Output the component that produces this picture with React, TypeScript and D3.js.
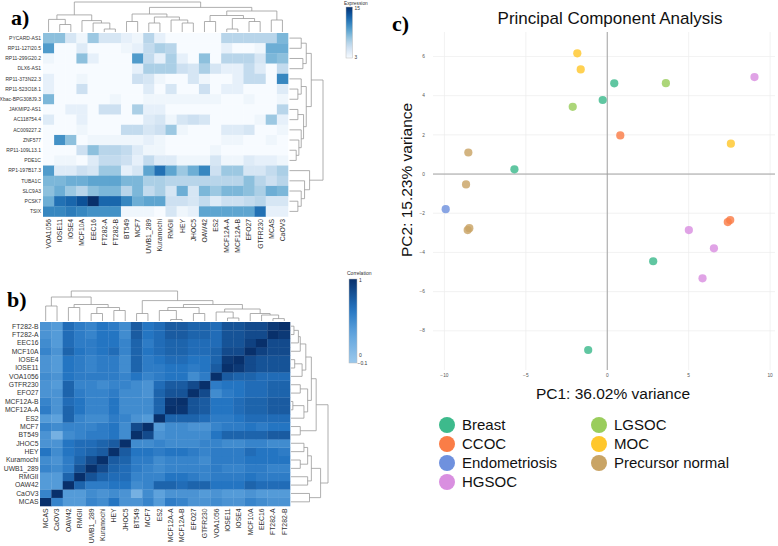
import React from "react";
import * as d3 from "d3";

// ---------------- Panel a data ----------------
const exprGenes = [
  "PYCARD-AS1", "RP11-127I20.5", "RP11-299G20.2", "DLX6-AS1", "RP11-373N22.3",
  "RP11-523O18.1", "Xbac-BPG308J9.3", "JAKMIP2-AS1", "AC118754.4", "AC009227.2",
  "ZNF577", "RP11-109L13.1", "PDE1C", "RP1-197B17.3", "TUBA1C", "SLC9A3", "PCSK7", "TSIX",
];
const exprSamples = [
  "VOA1056", "IOSE11", "IOSE4", "MCF10A", "EEC16", "FT282-A", "FT282-B", "BT549", "MCF7",
  "UWB1_289", "Kuramochi", "RMGII", "HEY", "JHOC5", "OAW42", "ES2", "MCF12A-A", "MCF12A-B",
  "EFO27", "GTFR230", "MCAS", "CaOV3",
];
const exprValues = [
  [8, 8, 5, 3.5, 7.5, 5, 5, 4, 3.5, 6.5, 4, 3, 3, 3, 3, 3, 6.5, 6.5, 6.5, 6.5, 6.5, 8.5],
  [10, 3, 3, 4.5, 3, 3, 3, 3.5, 4, 6, 7, 6.5, 3, 3, 3, 3, 4, 3, 3, 3.5, 9, 9],
  [3.5, 3, 3, 8, 4, 3, 3, 3, 10, 6, 4, 7, 4, 3, 8, 3, 6.5, 6.5, 6.5, 5, 8.5, 8],
  [3, 3, 3, 3, 3, 3, 3, 3, 4, 7, 7, 7, 5.5, 5, 7, 5, 4, 4, 6, 4.5, 3, 6],
  [4, 3, 3, 3.5, 3, 3, 3, 3, 5.5, 5, 3.5, 3, 3, 5, 3.5, 3, 3, 4, 6, 6, 3, 11],
  [4, 3, 3, 5.5, 3, 3, 3, 3, 3, 4.5, 3, 5, 3, 3, 5.5, 3, 4, 4, 3, 3, 3, 4.5],
  [8.5, 3, 3, 3, 3, 3, 3.5, 3, 3, 3.5, 3.5, 3.5, 3.5, 3.5, 3.5, 3.5, 3, 3, 3.5, 3, 3, 3.5],
  [3, 3, 4, 4, 3, 5.5, 5.5, 3, 7, 4, 4, 3, 3, 3, 3, 3, 3, 3, 3, 3, 3, 6.5],
  [4.5, 3, 3, 4, 3, 3, 3, 3, 3, 4.5, 5, 3.5, 5, 5.5, 5, 3, 3, 3, 3, 3.5, 7.5, 4],
  [3, 3, 3, 3.5, 3, 3, 3, 6, 6, 5, 5.5, 7.5, 3.5, 3, 3, 3, 4.5, 4.5, 5, 3, 3, 3.5],
  [3, 10.5, 8, 3, 3.5, 3.5, 3.5, 3.5, 3.5, 4, 3.5, 3, 3, 3, 3, 3, 3.5, 3.5, 3, 3, 3.5, 3],
  [3, 3, 3, 5.5, 8, 6.5, 6.5, 6, 4.5, 3.5, 3.5, 3, 3, 3, 3, 3.5, 3, 3, 3, 3, 3, 3],
  [3, 3.5, 3.5, 3, 4.5, 6, 6, 5.5, 4, 6, 4.5, 4.5, 3.5, 3.5, 3.5, 5, 3.5, 3.5, 4.5, 4, 4, 3.5],
  [10, 4.5, 4.5, 5.5, 5, 7.5, 7.5, 4, 5, 9.5, 12, 9.5, 7.5, 9, 11, 5.5, 7.5, 7.5, 5, 5, 6, 7],
  [8.5, 8.5, 9, 9, 9.5, 9.5, 9.5, 8.5, 8.5, 7, 7, 6.5, 6.5, 6.5, 6.5, 6.5, 6.5, 6.5, 8, 6.5, 5.5, 6.5],
  [8, 9, 7.5, 6.5, 8, 8.5, 8.5, 6.5, 8.5, 6, 7, 5, 9, 5, 8.5, 7.5, 8.5, 8.5, 8, 7, 9, 8.5],
  [9, 12, 12.5, 13.5, 15, 12.5, 12.5, 11, 9, 9.5, 9.5, 5.5, 5.5, 5, 6, 4.5, 5.5, 5.5, 6, 6.5, 5, 5],
  [11, 11, 11.5, 11, 10.5, 10.5, 10.5, 3.5, 3.5, 3.5, 3, 5, 3.5, 4, 9.5, 9.5, 9.5, 9.5, 9.5, 12, 4, 4],
];
const exprDomain = [3, 15];

type Tree = string | [Tree, Tree, number];

const exprColTree: Tree = [
  [["VOA1056", ["IOSE11", "IOSE4", 0.25], 0.42], ["MCF10A", ["EEC16", ["FT282-A", "FT282-B", 0.1], 0.3], 0.38], 0.57],
  [
    [["BT549", "MCF7", 0.35], [["UWB1_289", "Kuramochi", 0.3], ["RMGII", ["HEY", "JHOC5", 0.3], 0.4], 0.5], 0.6],
    [[["OAW42", "ES2", 0.35], [["MCF12A-A", "MCF12A-B", 0.1], ["EFO27", "GTFR230", 0.35], 0.45], 0.55], ["MCAS", "CaOV3", 0.4], 0.7],
    0.82,
  ],
  1.0,
];
const exprRowTree: Tree = [
  [
    [["PYCARD-AS1", "RP11-127I20.5", 0.35], ["RP11-299G20.2", "DLX6-AS1", 0.4], 0.5],
    [
      ["RP11-373N22.3", ["RP11-523O18.1", "Xbac-BPG308J9.3", 0.25], 0.35],
      [["JAKMIP2-AS1", "AC118754.4", 0.25], ["AC009227.2", ["ZNF577", ["RP11-109L13.1", "PDE1C", 0.2], 0.28], 0.35], 0.42],
      0.5,
    ],
    0.65,
  ],
  ["RP1-197B17.3", ["TUBA1C", ["SLC9A3", ["PCSK7", "TSIX", 0.25], 0.35], 0.45], 0.6],
  1.0,
];

// ---------------- Panel b data ----------------
const corrSamples = [
  "MCAS", "CaOV3", "OAW42", "RMGII", "UWB1_289", "Kuramochi", "HEY", "JHOC5", "BT549", "MCF7",
  "ES2", "MCF12A-A", "MCF12A-B", "EFO27", "GTFR230", "VOA1056", "IOSE11", "IOSE4", "MCF10A",
  "EEC16", "FT282-A", "FT282-B",
];
const corrLower = [
  [],
  [0.5],
  [0.35, 0.35],
  [0.35, 0.35, 0.7],
  [0.5, 0.45, 0.55, 0.8],
  [0.45, 0.4, 0.55, 0.7, 0.85],
  [0.6, 0.45, 0.6, 0.65, 0.7, 0.75],
  [0.4, 0.4, 0.6, 0.65, 0.65, 0.7, 0.75],
  [0.4, 0.15, 0.45, 0.5, 0.55, 0.55, 0.6, 0.45],
  [0.5, 0.45, 0.5, 0.5, 0.5, 0.55, 0.6, 0.45, 0.85],
  [0.35, 0.3, 0.7, 0.5, 0.45, 0.45, 0.55, 0.5, 0.4, 0.35],
  [0.55, 0.4, 0.7, 0.6, 0.5, 0.5, 0.6, 0.45, 0.45, 0.45, 0.7],
  [0.5, 0.4, 0.65, 0.6, 0.5, 0.5, 0.6, 0.45, 0.45, 0.45, 0.7, 0.97],
  [0.4, 0.4, 0.7, 0.55, 0.5, 0.5, 0.55, 0.45, 0.45, 0.4, 0.7, 0.8, 0.8],
  [0.4, 0.35, 0.7, 0.5, 0.5, 0.45, 0.5, 0.5, 0.45, 0.4, 0.65, 0.75, 0.75, 0.85],
  [0.45, 0.4, 0.6, 0.55, 0.55, 0.55, 0.55, 0.5, 0.6, 0.5, 0.55, 0.6, 0.6, 0.45, 0.55],
  [0.4, 0.35, 0.6, 0.55, 0.5, 0.55, 0.55, 0.45, 0.7, 0.55, 0.55, 0.6, 0.6, 0.55, 0.6, 0.75],
  [0.4, 0.35, 0.6, 0.55, 0.5, 0.55, 0.55, 0.45, 0.7, 0.55, 0.6, 0.65, 0.65, 0.6, 0.6, 0.7, 0.95],
  [0.5, 0.4, 0.7, 0.6, 0.55, 0.6, 0.65, 0.5, 0.7, 0.6, 0.65, 0.7, 0.7, 0.65, 0.65, 0.7, 0.85, 0.85],
  [0.45, 0.35, 0.65, 0.55, 0.55, 0.6, 0.6, 0.5, 0.7, 0.55, 0.65, 0.7, 0.7, 0.65, 0.65, 0.65, 0.8, 0.8, 0.9],
  [0.4, 0.35, 0.65, 0.55, 0.5, 0.6, 0.6, 0.45, 0.75, 0.6, 0.65, 0.75, 0.75, 0.7, 0.7, 0.65, 0.8, 0.8, 0.85, 0.85],
  [0.4, 0.35, 0.65, 0.55, 0.5, 0.6, 0.55, 0.45, 0.75, 0.6, 0.65, 0.75, 0.75, 0.7, 0.7, 0.65, 0.8, 0.8, 0.85, 0.85, 0.95],
];
const corrTicks = [1, 0, -0.1];

const corrTree: Tree = [
  [["MCAS", "CaOV3", 0.5], [["OAW42", "RMGII", 0.45], [["UWB1_289", "Kuramochi", 0.25], ["HEY", "JHOC5", 0.35], 0.45], 0.55], 0.8],
  [
    ["BT549", "MCF7", 0.25],
    [
      [["ES2", ["MCF12A-A", "MCF12A-B", 0.05], 0.35], ["EFO27", "GTFR230", 0.25], 0.45],
      [["VOA1056", ["IOSE11", "IOSE4", 0.1], 0.3], ["MCF10A", ["EEC16", ["FT282-A", "FT282-B", 0.08], 0.2], 0.25], 0.4],
      0.55,
    ],
    0.68,
  ],
  1.0,
];

// ---------------- Panel c data ----------------
const pcaGroups = ["Breast", "CCOC", "Endometriosis", "HGSOC", "LGSOC", "MOC", "Precursor normal"];
const pcaPointGroup = [
  "Breast", "Breast", "Breast", "Breast", "Breast",
  "CCOC", "CCOC", "CCOC",
  "Endometriosis",
  "HGSOC", "HGSOC", "HGSOC", "HGSOC",
  "LGSOC", "LGSOC",
  "MOC", "MOC", "MOC",
  "Precursor normal", "Precursor normal", "Precursor normal", "Precursor normal",
];
const pcaPC1 = [0.43, -0.28, -5.7, 2.82, -1.17, 0.8, 7.4, 7.55, -9.92, 9.04, 5.01, 6.55, 5.85, 3.6, -2.12, -1.84, -1.63, 7.59, -8.53, -8.67, -8.57, -8.47];
const pcaPC2 = [4.63, 3.78, 0.24, -4.45, -8.98, 1.97, -2.45, -2.35, -1.79, 4.95, -2.86, -3.79, -5.32, 4.64, 3.43, 6.16, 5.34, 1.55, 1.1, -0.53, -2.86, -2.76];
const pcaXTicks = [-10, -5, 0, 5, 10];
const pcaYTicks = [-8, -6, -4, -2, 0, 2, 4, 6];

const groupColors = ["#3dba8c", "#fa7d47", "#6f91de", "#d98fe0", "#9acd5c", "#ffc72c", "#c9a465"];

// ---------------- helpers ----------------
type Seg = { p1: number; h1: number; p2: number; h2: number };
function dendroSegs(tree: Tree, pos: (leaf: string) => number): Seg[] {
  const segs: Seg[] = [];
  const rec = (t: Tree): { p: number; h: number } => {
    if (typeof t === "string") return { p: pos(t), h: 0 };
    const a = rec(t[0]);
    const b = rec(t[1]);
    const h = t[2];
    segs.push({ p1: a.p, h1: h, p2: b.p, h2: h });
    segs.push({ p1: a.p, h1: a.h, p2: a.p, h2: h });
    segs.push({ p1: b.p, h1: b.h, p2: b.p, h2: h });
    return { p: (a.p + b.p) / 2, h };
  };
  rec(tree);
  return segs;
}

const SANS = "'Liberation Sans', Arial, sans-serif";
const SERIF = "'Liberation Serif', 'Times New Roman', serif";
const DCOL = "#9a9a9a";

function PanelA() {
  const x = d3.scaleBand<string>().domain(exprSamples).range([43, 288]);
  const y = d3.scaleBand<string>().domain(exprGenes).range([33, 216.5]);
  const color = d3.scaleSequential(d3.interpolateBlues).domain(exprDomain as [number, number]);
  const colH = d3.scaleLinear().domain([0, 1]).range([32, 2]);
  const rowH = d3.scaleLinear().domain([0, 1]).range([289.5, 323]);
  const colSegs = dendroSegs(exprColTree, (s) => (x(s) ?? 0) + x.bandwidth() / 2);
  const rowSegs = dendroSegs(exprRowTree, (g) => (y(g) ?? 0) + y.bandwidth() / 2);
  const legY = d3.scaleLinear().domain(exprDomain).range([58, 7]);
  return (
    <g>
      <text x={11} y={25} fontFamily={SERIF} fontWeight="bold" fontSize={22}>a)</text>
      {exprGenes.map((g, i) =>
        exprSamples.map((s, j) => (
          <rect key={g + s} x={x(s)} y={y(g)} width={x.bandwidth() + 0.3} height={y.bandwidth() + 0.3}
            fill={color(exprValues[i][j])} />
        ))
      )}
      {exprGenes.map((g) => (
        <text key={g} x={41} y={(y(g) ?? 0) + y.bandwidth() / 2} dy="0.35em" textAnchor="end"
          fontFamily={SANS} fontSize={5} fill="#333">{g}</text>
      ))}
      {exprSamples.map((s) => {
        const cx = (x(s) ?? 0) + x.bandwidth() / 2;
        return (
          <text key={s} transform={`translate(${cx},219) rotate(-90)`} dy="0.35em" textAnchor="end"
            fontFamily={SANS} fontSize={6.8} fill="#333">{s}</text>
        );
      })}
      {colSegs.map((sg, i) => (
        <line key={"c" + i} x1={sg.p1} x2={sg.p2} y1={colH(sg.h1)} y2={colH(sg.h2)} stroke={DCOL} strokeWidth={0.8} />
      ))}
      {rowSegs.map((sg, i) => (
        <line key={"r" + i} y1={sg.p1} y2={sg.p2} x1={rowH(sg.h1)} x2={rowH(sg.h2)} stroke={DCOL} strokeWidth={0.8} />
      ))}
      <defs>
        <linearGradient id="gradA" x1="0" y1="1" x2="0" y2="0">
          {d3.range(0, 1.01, 0.1).map((t) => (
            <stop key={t} offset={t} stopColor={d3.interpolateBlues(t)} />
          ))}
        </linearGradient>
      </defs>
      <text x={344} y={5} fontFamily={SANS} fontSize={4.8} fill="#333">Expression</text>
      <rect x={346} y={legY(15)} width={6.5} height={legY(3) - legY(15)} fill="url(#gradA)" stroke="#bbb" strokeWidth={0.5} />
      <text x={354.5} y={legY(15) + 3} fontFamily={SANS} fontSize={4.8} fill="#333">15</text>
      <text x={354.5} y={legY(3) + 1} fontFamily={SANS} fontSize={4.8} fill="#333">3</text>
    </g>
  );
}

function PanelB() {
  const n = corrSamples.length;
  const mat: number[][] = d3.range(n).map((i) =>
    d3.range(n).map((j) => (i === j ? 1 : i > j ? corrLower[i][j] : corrLower[j][i]))
  );
  const rowOrder = corrSamples.slice().reverse();
  const x = d3.scaleBand<string>().domain(corrSamples).range([40, 290]);
  const y = d3.scaleBand<string>().domain(rowOrder).range([322, 506]);
  const color = d3.scaleLinear<string>()
    .domain([-0.1, 0.3, 0.6, 1])
    .range(["#9ac8ec", "#5ea2dc", "#2475c2", "#08306b"])
    .interpolate(d3.interpolateRgb);
  const colH = d3.scaleLinear().domain([0, 1]).range([321, 291]);
  const rowH = d3.scaleLinear().domain([0, 1]).range([291, 328]);
  const colSegs = dendroSegs(corrTree, (s) => (x(s) ?? 0) + x.bandwidth() / 2);
  const rowSegs = dendroSegs(corrTree, (s) => (y(s) ?? 0) + y.bandwidth() / 2);
  const legY = d3.scaleLinear().domain([-0.1, 1]).range([363, 279]);
  return (
    <g>
      <text x={7} y={307} fontFamily={SERIF} fontWeight="bold" fontSize={22}>b)</text>
      {corrSamples.map((r, i) =>
        corrSamples.map((c, j) => (
          <rect key={r + c} x={x(c)} y={y(r)} width={x.bandwidth() + 0.3} height={y.bandwidth() + 0.3}
            fill={color(mat[i][j])} />
        ))
      )}
      {rowOrder.map((r) => (
        <text key={r} x={38.5} y={(y(r) ?? 0) + y.bandwidth() / 2} dy="0.35em" textAnchor="end"
          fontFamily={SANS} fontSize={6.8} fill="#333">{r}</text>
      ))}
      {corrSamples.map((c) => {
        const cx = (x(c) ?? 0) + x.bandwidth() / 2;
        return (
          <text key={c} transform={`translate(${cx},508.5) rotate(-90)`} dy="0.35em" textAnchor="end"
            fontFamily={SANS} fontSize={6.8} fill="#333">{c}</text>
        );
      })}
      {colSegs.map((sg, i) => (
        <line key={"c" + i} x1={sg.p1} x2={sg.p2} y1={colH(sg.h1)} y2={colH(sg.h2)} stroke={DCOL} strokeWidth={0.8} />
      ))}
      {rowSegs.map((sg, i) => (
        <line key={"r" + i} y1={sg.p1} y2={sg.p2} x1={rowH(sg.h1)} x2={rowH(sg.h2)} stroke={DCOL} strokeWidth={0.8} />
      ))}
      <defs>
        <linearGradient id="gradB" x1="0" y1="1" x2="0" y2="0">
          {d3.range(0, 1.01, 0.1).map((t) => (
            <stop key={t} offset={t} stopColor={color(-0.1 + 1.1 * t)} />
          ))}
        </linearGradient>
      </defs>
      <text x={347} y={275} fontFamily={SANS} fontSize={5} fill="#333">Correlation</text>
      <rect x={349} y={legY(1)} width={8} height={legY(-0.1) - legY(1)} fill="url(#gradB)" stroke="#bbb" strokeWidth={0.5} />
      {corrTicks.map((t) => (
        <text key={t} x={t < 0 ? 357.5 : 359} y={legY(t) + (t === 1 ? 2.5 : 1.5)} fontFamily={SANS} fontSize={5} fill="#333">
          {t < 0 ? "\u2212" + Math.abs(t) : String(t)}
        </text>
      ))}
    </g>
  );
}

function PanelC() {
  const x = d3.scaleLinear().domain([-10.7, 10.3]).range([433, 775]);
  const y = d3.scaleLinear().domain([-10, 7.25]).range([370, 32]);
  const col = d3.scaleOrdinal<string, string>().domain(pcaGroups).range(groupColors);
  const legendCols = [pcaGroups.slice(0, 4), pcaGroups.slice(4)];
  return (
    <g>
      <text x={392} y={31} fontFamily={SERIF} fontWeight="bold" fontSize={22}>c)</text>
      <text x={610} y={24} textAnchor="middle" fontFamily={SANS} fontSize={17} fill="#111">Principal Component Analysis</text>
      {pcaXTicks.map((t) => (
        <line key={"gx" + t} x1={x(t)} x2={x(t)} y1={32} y2={370} stroke="#ececec" strokeWidth={0.7} />
      ))}
      {pcaYTicks.map((t) => (
        <line key={"gy" + t} x1={433} x2={775} y1={y(t)} y2={y(t)} stroke="#ececec" strokeWidth={0.7} />
      ))}
      <line x1={x(0)} x2={x(0)} y1={32} y2={370} stroke="#9a9a9a" strokeWidth={0.9} />
      <line x1={433} x2={775} y1={y(0)} y2={y(0)} stroke="#9a9a9a" strokeWidth={0.9} />
      {pcaXTicks.map((t) => (
        <text key={"tx" + t} x={x(t)} y={376.5} textAnchor="middle" fontFamily={SANS} fontSize={4.8} fill="#555">
          {t < 0 ? "\u2212" + Math.abs(t) : t}
        </text>
      ))}
      {pcaYTicks.map((t) => (
        <text key={"ty" + t} x={425} y={y(t)} dy="0.35em" textAnchor="end" fontFamily={SANS} fontSize={4.8} fill="#555">
          {t < 0 ? "\u2212" + Math.abs(t) : t}
        </text>
      ))}
      {pcaPC1.map((v, i) => (
        <circle key={i} cx={x(v)} cy={y(pcaPC2[i])} r={4.1} fill={col(pcaPointGroup[i])} fillOpacity={0.82} />
      ))}
      <text x={613} y={399} textAnchor="middle" fontFamily={SANS} fontSize={15.5} fill="#111">PC1: 36.02% variance</text>
      <text transform="translate(412,180) rotate(-90)" textAnchor="middle" fontFamily={SANS} fontSize={15.5} fill="#111">
        PC2: 15.23% variance
      </text>
      {legendCols.map((groups, ci) =>
        groups.map((g, ri) => {
          const cx = ci === 0 ? 447 : 599;
          const cy = 425 + ri * 19;
          return (
            <g key={g}>
              <circle cx={cx} cy={cy} r={8} fill={col(g)} />
              <text x={cx + 15} y={cy} dy="0.35em" fontFamily={SANS} fontSize={15} fill="#111">{g}</text>
            </g>
          );
        })
      )}
    </g>
  );
}

export default function App() {
  return (
    <svg width={778} height={546} style={{ position: "absolute", left: 0, top: 0, background: "#fff" }}>
      <rect width={778} height={546} fill="#fff" />
      <PanelA />
      <PanelB />
      <PanelC />
    </svg>
  );
}
